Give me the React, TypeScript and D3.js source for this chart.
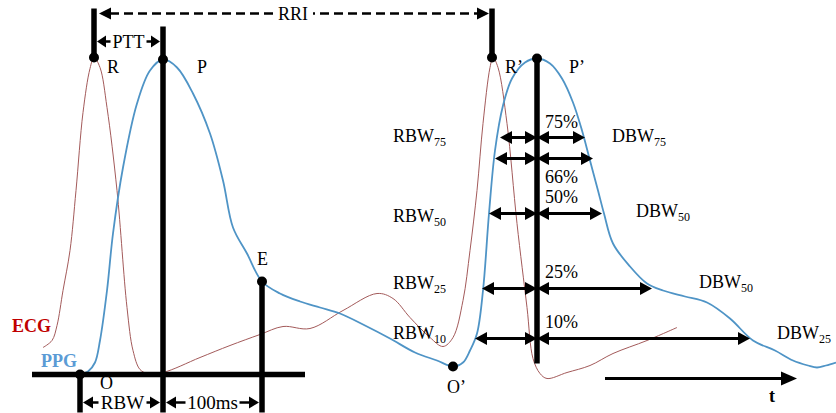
import * as d3 from 'd3';

// PPG pulse (time in px-units, amplitude above baseline)
const ppgT = [80, 88, 95, 100, 107, 113, 123, 137, 150, 163, 177, 193, 210, 223, 233, 247, 262, 280, 300, 320,
  340, 365, 390, 415, 437, 453, 463, 470, 477, 483, 489, 495, 503, 512, 525, 537, 550, 562, 573, 582,
  590, 598, 604, 613, 630, 647, 663, 685, 707, 730, 753, 775, 793, 808, 817, 826, 836];
const ppgAmp = [0, 3, 12, 34, 84, 141, 207, 271, 304, 315, 307, 281, 241, 194, 147, 121, 93, 81, 73, 67,
  61, 49, 36, 22, 14, 8, 12, 24, 41, 84, 161, 224, 269, 296, 312, 316, 311, 296, 272, 244,
  214, 184, 161, 131, 108, 91, 84, 78, 72, 56, 34, 24, 14, 9, 7, 9, 12];

// ECG trace
const ecgT = [43, 52, 57, 63, 70, 76, 83, 90, 94, 100, 107, 117, 127, 133, 140, 148, 163, 200, 230, 260,
  283, 310, 343, 377, 393, 410, 430, 443, 453, 463, 470, 477, 483, 490, 493, 498, 507, 517, 527, 533,
  540, 547, 567, 590, 613, 647, 677];
const ecgAmp = [27, 34, 49, 84, 124, 184, 262, 306, 317, 307, 267, 184, 67, 24, 5, 1, 2, 17, 29, 40,
  48, 46, 64, 81, 76, 57, 37, 28, 37, 74, 124, 184, 251, 307, 317, 307, 251, 151, 67, 16,
  1, -4, 2, 9, 21, 34, 47];

// fiducial points
const pointNames = ['R', 'P', 'O', 'E', "R'", "P'", "O'"];
const pointT = [94, 163, 80, 262, 492, 537, 453];
const pointAmp = [317, 315, 0, 93, 317, 316, 8];

// width levels on second pulse
const levelPct = ['75%', '66%', '50%', '25%', '10%'];
const levelAmp = [237, 216, 161, 86, 36];
const levelLeft = [500, 495, 489, 482, 475];
const levelRight = [585, 593, 602, 652, 750];

const rbwSubs = ['75', '50', '25', '10'];
const dbwSubs = ['75', '50', '50', '25'];

const W = 836;
const H = 413;
const serif = '"Liberation Serif", "Times New Roman", serif';

const x = d3.scaleLinear().domain([0, W]).range([0, W]);
const y = d3.scaleLinear().domain([0, 374]).range([374.5, 0.5]);

const head = (tx: number, ty: number, dir: number, L = 12, h = 6.5) =>
  `M${tx},${ty}L${tx - dir * L},${ty - h}L${tx - dir * L},${ty + h}Z`;

function DoubleArrow({ x1, x2, yy, w = 3, L = 12, h = 6.5 }: any) {
  return (
    <g>
      <line x1={x1 + L - 1} x2={x2 - L + 1} y1={yy} y2={yy} stroke="#000" strokeWidth={w} />
      <path d={head(x1, yy, -1, L, h)} fill="#000" />
      <path d={head(x2, yy, 1, L, h)} fill="#000" />
    </g>
  );
}

function Label({ tx, ty, text, size = 18, anchor = 'start', bg = false, bgW = 0 }: any) {
  return (
    <g>
      {bg && <rect x={tx - bgW / 2} y={ty - size * 0.68} width={bgW} height={size * 0.72} fill="#fff" />}
      <text x={tx} y={ty} fontFamily={serif} fontSize={size} textAnchor={anchor} fill="#000">{text}</text>
    </g>
  );
}

function Sub({ tx, ty, main, sub }: any) {
  return (
    <text x={tx} y={ty} fontFamily={serif} fontSize={18} fill="#000">
      {main}
      <tspan fontSize={12} dy={4}>{sub}</tspan>
    </text>
  );
}

export default function App() {
  const line = d3.line<number>().curve(d3.curveCatmullRom.alpha(0.5));
  const ppgPath = line.x((_, i) => x(ppgT[i])).y((d) => y(d))(ppgAmp) || '';
  const ecgLine = d3.line<number>().curve(d3.curveCatmullRom.alpha(0.5))
    .x((_, i) => x(ecgT[i])).y((d) => y(d));
  const ecgPath = ecgLine(ecgAmp) || '';

  const pt = (name: string) => {
    const i = pointNames.indexOf(name);
    return { px: x(pointT[i]), py: y(pointAmp[i]) };
  };
  const R = pt('R'), P = pt('P'), O = pt('O'), E = pt('E'), R2 = pt("R'"), P2 = pt("P'"), O2 = pt("O'");

  const topY = y(366);
  const bottomY = y(-38);
  const rriY = y(361);
  const pttY = y(333);
  const lowArrowY = y(-28);
  const base = y(0);

  const rbwY = [142, 222, 289, 339];
  const dbwX = [612, 636, 699, 777];
  const dbwY = [142, 217, 288, 339];
  const pctDy = [-10, 24, -11, -11, -11];

  return (
    <svg width={W} height={H} style={{ position: 'absolute', left: 0, top: 0, background: '#fff' }}>
      {/* curves */}
      <path d={ecgPath} fill="none" stroke="#a35a5a" strokeWidth={1} />
      <path d={ppgPath} fill="none" stroke="#4f94c6" strokeWidth={1.8} />

      {/* baseline */}
      <line x1={x(32)} x2={x(305)} y1={base} y2={base} stroke="#000" strokeWidth={5.5} />

      {/* vertical bars */}
      <line x1={R.px} x2={R.px} y1={topY} y2={R.py} stroke="#000" strokeWidth={5.5} />
      <line x1={P.px} x2={P.px} y1={y(348)} y2={bottomY} stroke="#000" strokeWidth={5.5} />
      <line x1={O.px} x2={O.px} y1={base} y2={bottomY} stroke="#000" strokeWidth={5.5} />
      <line x1={E.px} x2={E.px} y1={E.py} y2={bottomY} stroke="#000" strokeWidth={5.5} />
      <line x1={R2.px} x2={R2.px} y1={topY} y2={R2.py} stroke="#000" strokeWidth={5.5} />
      <line x1={P2.px} x2={P2.px} y1={P2.py} y2={y(11)} stroke="#000" strokeWidth={5.5} />

      {/* dots */}
      {[R, P, O, E, R2, P2, O2].map((d, i) => (
        <circle key={i} cx={d.px} cy={d.py} r={5} fill="#000" />
      ))}

      {/* RRI */}
      <line x1={x(110)} x2={x(478)} y1={rriY} y2={rriY} stroke="#000" strokeWidth={2.5} strokeDasharray="9,5" />
      <path d={head(x(99), rriY, -1, 12, 6)} fill="#000" />
      <path d={head(x(489), rriY, 1, 12, 6)} fill="#000" />
      <Label tx={x(293)} ty={rriY + 6} text="RRI" anchor="middle" bg bgW={40} />

      {/* PTT */}
      <DoubleArrow x1={R.px + 3} x2={P.px - 3} yy={pttY} w={2.5} L={9} h={6} />
      <Label tx={(R.px + P.px) / 2} ty={pttY + 6} text="PTT" anchor="middle" bg bgW={36} />

      {/* RBW / 100ms */}
      <DoubleArrow x1={O.px + 3} x2={P.px - 3} yy={lowArrowY} w={2.5} L={10} h={6} />
      <Label tx={(O.px + P.px) / 2 + 1} ty={lowArrowY + 6} text="RBW" size={19} anchor="middle" bg bgW={48} />
      <DoubleArrow x1={P.px + 3} x2={E.px - 3} yy={lowArrowY} w={2.5} L={10} h={6} />
      <Label tx={(P.px + E.px) / 2} ty={lowArrowY + 6} text="100ms" size={19} anchor="middle" bg bgW={54} />

      {/* point labels */}
      <Label tx={x(107)} ty={73} text="R" />
      <Label tx={x(197)} ty={73} text="P" />
      <Label tx={x(100)} ty={389} text="O" />
      <Label tx={x(257)} ty={265} text="E" />
      <Label tx={x(505)} ty={73} text="R’" />
      <Label tx={x(569)} ty={73} text="P’" />
      <Label tx={x(447)} ty={393} text="O’" />

      {/* signal names */}
      <text x={12} y={332} fontFamily={serif} fontWeight="bold" fontSize={18} fill="#c00000">ECG</text>
      <text x={41} y={367} fontFamily={serif} fontWeight="bold" fontSize={18} fill="#5b9bd5">PPG</text>

      {/* width levels */}
      {levelAmp.map((a, i) => {
        const yy = y(a);
        return (
          <g key={i}>
            <DoubleArrow x1={x(levelLeft[i])} x2={P2.px} yy={yy} />
            <DoubleArrow x1={P2.px} x2={x(levelRight[i])} yy={yy} />
            <Label tx={x(545)} ty={yy + pctDy[i]} text={levelPct[i]} size={18} />
          </g>
        );
      })}

      {rbwSubs.map((s, i) => (
        <Sub key={'r' + i} tx={x(393)} ty={rbwY[i]} main="RBW" sub={s} />
      ))}
      {dbwSubs.map((s, i) => (
        <Sub key={'d' + i} tx={x(dbwX[i])} ty={dbwY[i]} main="DBW" sub={s} />
      ))}

      {/* time axis */}
      <line x1={x(605)} x2={x(782)} y1={y(-4)} y2={y(-4)} stroke="#000" strokeWidth={3} />
      <path d={head(x(797), y(-4), 1, 16, 7)} fill="#000" />
      <text x={x(769)} y={402} fontFamily={serif} fontWeight="bold" fontSize={18} fill="#000">t</text>
    </svg>
  );
}
